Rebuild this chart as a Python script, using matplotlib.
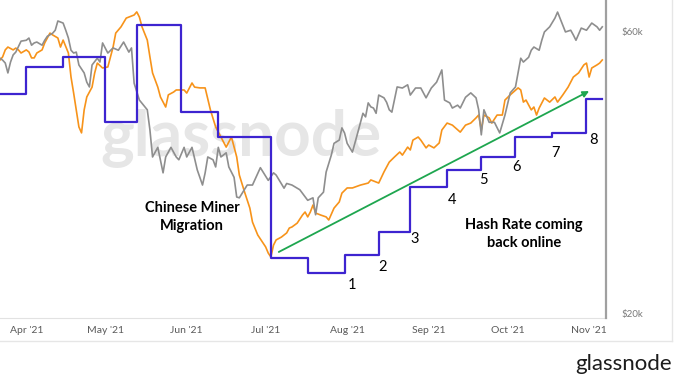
import matplotlib
matplotlib.use("Agg")
import matplotlib.pyplot as plt
import matplotlib.dates as mdates
from matplotlib.lines import Line2D
import pandas as pd

plt.rcParams["font.family"] = ["Lato", "DejaVu Sans"]

# colours
blue = "#3d24d0"
orange = "#f7931a"
grey = "#8e8e8e"
green = "#1ea64f"

# Difficulty (T) - step series
diff_dates = ["03-22", "04-01", "04-15", "05-01", "05-13", "05-30", "06-13", "07-03",
              "07-17", "07-31", "08-13", "08-25", "09-08", "09-21", "10-04", "10-18",
              "10-31", "11-06"]
diff_vals = [21.87, 23.14, 23.58, 20.61, 25.05, 21.05, 19.93, 14.36,
             13.67, 14.50, 15.56, 17.62, 18.42, 19.00, 19.93, 20.08,
             21.66, 21.66]

# BTC price ($k)
price_dates = ["03-22", "03-23", "03-24", "03-25", "03-26", "03-27", "03-28", "03-30",
               "04-01", "04-02", "04-03", "04-04", "04-05", "04-07", "04-08", "04-09",
               "04-11", "04-12", "04-13", "04-15", "04-16", "04-17", "04-18", "04-19",
               "04-20", "04-21", "04-23", "04-24", "04-25", "04-26", "04-28", "04-29",
               "04-30", "05-02", "05-04", "05-06", "05-08", "05-10", "05-11", "05-12",
               "05-14", "05-17", "05-18", "05-19", "05-21", "05-23", "05-24", "05-26",
               "05-28", "05-29", "05-31", "06-01", "06-03", "06-05", "06-07", "06-08",
               "06-09", "06-11", "06-12", "06-13", "06-14", "06-16", "06-17", "06-19",
               "06-20", "06-21", "06-24", "06-26", "06-29", "07-02", "07-04", "07-05",
               "07-08", "07-09", "07-11", "07-14", "07-17", "07-19", "07-20", "07-21",
               "07-23", "07-24", "07-26", "07-27", "07-29", "07-30", "07-31", "08-01",
               "08-03", "08-05", "08-07", "08-08", "08-09", "08-10", "08-11", "08-12",
               "08-13", "08-15", "08-16", "08-17", "08-18", "08-20", "08-22", "08-24",
               "08-25", "08-27", "08-29", "08-31", "09-02", "09-04", "09-06", "09-07",
               "09-09", "09-10", "09-12", "09-13", "09-15", "09-17", "09-19", "09-20",
               "09-21", "09-22", "09-24", "09-26", "09-28", "09-30", "10-02", "10-04",
               "10-06", "10-07", "10-09", "10-10", "10-11", "10-13", "10-14", "10-15",
               "10-17", "10-19", "10-20", "10-22", "10-23", "10-25", "10-26", "10-27",
               "10-29", "10-31", "11-02", "11-04", "11-05", "11-06"]
price_vals = [54.0, 53.6, 53.0, 51.0, 53.2, 54.7, 55.3, 57.7,
              57.9, 58.4, 56.8, 57.3, 57.5, 56.8, 57.9, 58.8,
              59.5, 60.2, 62.4, 61.9, 60.2, 58.4, 55.7, 55.1,
              55.3, 52.6, 51.0, 49.2, 48.3, 52.6, 54.0, 53.2,
              57.3, 55.1, 56.2, 55.7, 57.5, 55.3, 56.2, 49.0,
              45.9, 44.2, 40.9, 36.8, 38.2, 34.6, 36.8, 38.2,
              36.8, 36.4, 38.2, 36.8, 38.2, 35.0, 33.0, 34.6,
              36.8, 36.4, 35.4, 38.2, 36.8, 37.4, 35.4, 34.0,
              31.5, 31.4, 33.0, 33.0, 35.3, 33.6, 34.6, 34.3,
              32.6, 33.2, 33.0, 32.4, 31.1, 31.4, 29.4, 31.4,
              32.1, 34.7, 37.1, 38.8, 39.3, 41.2, 40.4, 38.8,
              37.5, 40.4, 43.6, 43.0, 45.4, 44.7, 44.5, 43.6,
              46.8, 46.3, 45.5, 44.2, 43.8, 48.3, 48.1, 48.7,
              46.8, 48.1, 48.1, 46.3, 48.1, 49.2, 51.6, 45.9,
              45.4, 44.5, 45.0, 44.5, 46.4, 47.2, 46.3, 44.2,
              40.1, 44.2, 42.1, 42.1, 40.4, 43.3, 47.2, 48.3,
              54.0, 53.2, 54.2, 55.7, 56.4, 55.7, 57.9, 59.8,
              61.0, 63.1, 64.6, 61.4, 59.8, 60.2, 59.1, 57.9,
              60.7, 60.2, 61.9, 61.0, 60.2, 61.0]

# Hash rate (EH/s)
hash_dates = ["03-22", "03-23", "03-24", "03-25", "03-27", "03-28", "03-29", "03-30",
              "04-01", "04-02", "04-03", "04-04", "04-05", "04-07", "04-08", "04-10",
              "04-11", "04-13", "04-14", "04-15", "04-17", "04-18", "04-19", "04-20",
              "04-21", "04-22", "04-23", "04-24", "04-26", "04-27", "04-28", "04-30",
              "05-02", "05-03", "05-04", "05-05", "05-07", "05-09", "05-10", "05-12",
              "05-13", "05-14", "05-15", "05-17", "05-18", "05-19", "05-21", "05-22",
              "05-24", "05-25", "05-27", "05-28", "05-31", "06-01", "06-03", "06-04",
              "06-06", "06-08", "06-10", "06-12", "06-14", "06-16", "06-18", "06-20",
              "06-21", "06-23", "06-25", "06-26", "06-28", "06-30", "07-01", "07-02",
              "07-03", "07-04", "07-05", "07-07", "07-09", "07-10", "07-11", "07-13",
              "07-15", "07-16", "07-17", "07-18", "07-19", "07-20", "07-22", "07-24",
              "07-25", "07-27", "07-29", "07-30", "08-01", "08-03", "08-06", "08-09",
              "08-10", "08-12", "08-13", "08-15", "08-17", "08-19", "08-21", "08-22",
              "08-24", "08-25", "08-26", "08-28", "08-29", "08-31", "09-01", "09-03",
              "09-05", "09-06", "09-08", "09-10", "09-13", "09-15", "09-17", "09-19",
              "09-20", "09-21", "09-22", "09-24", "09-25", "09-27", "09-29", "09-30",
              "10-02", "10-05", "10-06", "10-07", "10-08", "10-10", "10-11", "10-12",
              "10-13", "10-15", "10-17", "10-19", "10-20", "10-22", "10-24", "10-26",
              "10-28", "10-30", "10-31", "11-01", "11-02", "11-04", "11-05", "11-06"]
hash_vals = [161.8, 163.0, 165.7, 166.8, 165.7, 166.4, 165.7, 164.5,
             165.7, 164.9, 162.6, 162.6, 164.5, 165.7, 168.4, 172.2,
             171.5, 170.3, 166.8, 169.5, 164.5, 155.2, 149.0, 142.5,
             135.9, 133.6, 142.5, 147.5, 151.3, 156.8, 160.6, 158.7,
             159.1, 163.0, 166.8, 172.2, 174.6, 178.0, 178.4, 179.2,
             180.4, 178.4, 174.6, 169.5, 163.0, 156.8, 151.3, 147.5,
             143.6, 148.3, 149.4, 150.2, 150.2, 149.0, 152.9, 151.3,
             151.0, 151.0, 142.5, 135.9, 132.0, 128.1, 132.0, 124.3,
             117.3, 110.7, 104.5, 99.1, 94.1, 91.0, 89.5, 87.1,
             85.6, 90.2, 92.2, 93.3, 94.9, 96.8, 97.2, 98.7,
             101.8, 103.0, 101.1, 103.0, 105.7, 102.6, 101.8, 101.1,
             99.9, 104.5, 106.9, 110.3, 112.3, 112.3, 113.4, 114.2,
             115.4, 114.6, 114.2, 118.5, 122.3, 124.3, 126.2, 125.0,
             128.1, 127.0, 130.8, 132.0, 130.8, 127.8, 128.9, 127.8,
             129.7, 134.7, 137.4, 136.6, 133.9, 136.6, 137.4, 139.4,
             140.5, 134.7, 140.5, 139.4, 137.4, 140.5, 140.5, 146.3,
             148.3, 151.0, 150.2, 145.5, 146.3, 142.5, 143.6, 140.5,
             143.2, 147.1, 145.5, 147.5, 145.5, 148.3, 151.3, 155.2,
             156.8, 159.9, 160.6, 155.2, 158.7, 159.9, 160.6, 161.8]

hash_grid = [81.7, 101.1, 121.2, 130.5, 140.5, 160.6, 171.1, 180.0]
price_ticks = [20, 60]
price_labels = ["$20k", "$60k"]
step_labels = ["1", "2", "3", "4", "5", "6", "7", "8"]


def to_dt(days):
    return pd.to_datetime(["2021-" + d for d in days])


fig = plt.figure(figsize=(6.8, 3.83), dpi=100)
ax = fig.add_axes([0.0, 1 - 318 / 383, 606 / 680, 318 / 383])
ax_p = ax.twinx()
ax_d = ax.twinx()

# base axes: hash rate + grid + watermark
ax.plot(to_dt(hash_dates), hash_vals, color=orange, lw=1.2, zorder=3)
ax.set_ylim(62.0, 185.0)
ax.set_yticks(hash_grid)
ax.yaxis.set_visible(False)
ax.grid(axis="y", color="#ebebeb", lw=0.9)
ax.set_axisbelow(True)
ax.text(0.398, 0.512, "glassnode", transform=ax.transAxes, ha="center", va="baseline",
        fontsize=46, fontweight="bold", color="#e6e6e6", zorder=0.2)

# price
ax_p.plot(to_dt(price_dates), price_vals, color=grey, lw=1.2)
ax_p.set_yscale("log")
ax_p.set_ylim(19.69, 67.7)
ax_p.set_yticks(price_ticks)
ax_p.set_yticklabels(price_labels)
ax_p.yaxis.set_minor_locator(plt.NullLocator())
ax_p.tick_params(axis="y", length=0, pad=11, labelsize=7, labelcolor="#7a7a7a")

# difficulty
ax_d.step(to_dt(diff_dates), diff_vals, where="post", color=blue, lw=1.6)
ax_d.set_ylim(11.61, 26.2)
ax_d.yaxis.set_visible(False)

for a in (ax, ax_p, ax_d):
    a.set_xlim(pd.Timestamp("2021-03-22"), pd.Timestamp("2021-11-07 10:00"))
    a.patch.set_visible(False)
    for s in ("top", "left", "right", "bottom"):
        a.spines[s].set_visible(False)
ax.patch.set_visible(True)
ax.patch.set_facecolor("white")
ax_p.spines["right"].set_visible(True)
ax_p.spines["right"].set_color("#a0a0a0")
ax_p.spines["right"].set_linewidth(1.6)
ax.spines["bottom"].set_visible(True)
ax.spines["bottom"].set_color("#e2e2e2")

ax.xaxis.set_major_locator(mdates.MonthLocator(bymonth=range(4, 12)))
ax.xaxis.set_major_formatter(mdates.DateFormatter("%b '%y"))
ax.tick_params(axis="x", length=0, pad=6, labelsize=7.5, labelcolor="#5a5a5a")

# annotations
ax_d.annotate("", xy=(pd.Timestamp("2021-11-01"), 22.02), xytext=(pd.Timestamp("2021-07-06"), 14.64),
              arrowprops=dict(arrowstyle="-|>", color=green, lw=1.3, mutation_scale=9,
                              shrinkA=0, shrinkB=0))
ax_d.text(0.317, 0.318, "Chinese Miner\nMigration", transform=ax_d.transAxes, ha="center",
          va="center", fontsize=10.5, fontweight="bold", linespacing=1.35)
ax_d.text(0.865, 0.264, "Hash Rate coming\nback online", transform=ax_d.transAxes, ha="center",
          va="center", fontsize=10.5, fontweight="bold", linespacing=1.35)
label_pos = [(0.581, 0.104), (0.632, 0.160), (0.685, 0.248), (0.746, 0.371),
             (0.797, 0.434), (0.853, 0.475), (0.916, 0.519), (0.980, 0.560)]
for lab, (xf, yf) in zip(step_labels, label_pos):
    ax_d.text(xf, yf, lab, transform=ax_d.transAxes, ha="center", va="center", fontsize=10.5)

# screenshot frame + logo
fig.add_artist(Line2D([0, 672 / 680], [1 - 341 / 383] * 2, transform=fig.transFigure,
                      color="#e6e6e6", lw=1))
fig.add_artist(Line2D([672 / 680] * 2, [1 - 341 / 383, 1], transform=fig.transFigure,
                      color="#e6e6e6", lw=1))
fig.text(672 / 680, 1 - 370 / 383, "glassnode", ha="right", va="baseline", fontsize=16,
         color="#1c1c1c")

fig.savefig("out.png", dpi=100)
